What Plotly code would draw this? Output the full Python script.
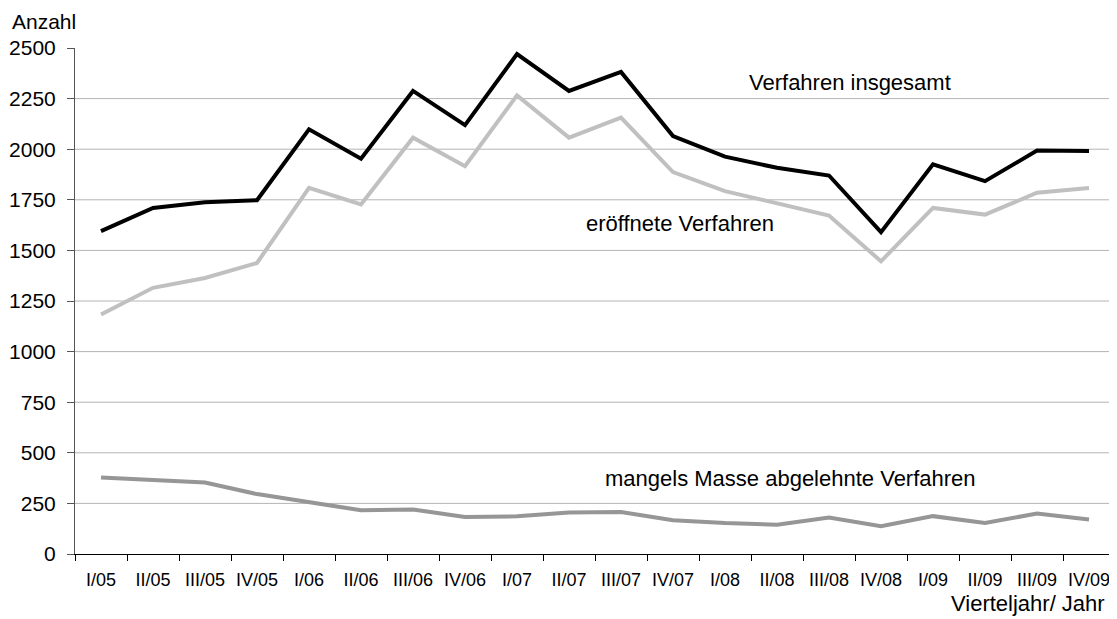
"""Insolvenzverfahren je Vierteljahr, 2005-2009."""

import plotly.graph_objects as go

QUARTERS = [
    "I/05", "II/05", "III/05", "IV/05",
    "I/06", "II/06", "III/06", "IV/06",
    "I/07", "II/07", "III/07", "IV/07",
    "I/08", "II/08", "III/08", "IV/08",
    "I/09", "II/09", "III/09", "IV/09",
]

insgesamt = [1595, 1710, 1738, 1748, 2098, 1953, 2288, 2119, 2470, 2288,
             2382, 2065, 1963, 1908, 1870, 1590, 1925, 1842, 1993, 1991]
eroeffnet = [1183, 1315, 1364, 1438, 1809, 1727, 2057, 1916, 2266, 2057,
             2156, 1887, 1793, 1735, 1672, 1446, 1710, 1677, 1785, 1808]
abgelehnt = [378, 366, 353, 296, 258, 216, 220, 183, 186, 205,
             207, 167, 153, 145, 180, 137, 187, 153, 200, 170]

Y_TICKS = [0, 250, 500, 750, 1000, 1250, 1500, 1750, 2000, 2250, 2500]

FONT = "Arial, Liberation Sans, sans-serif"

fig = go.Figure()
for values, color in [
    (abgelehnt, "#969696"),
    (eroeffnet, "#c0c0c0"),
    (insgesamt, "#000000"),
]:
    fig.add_trace(
        go.Scatter(
            x=QUARTERS,
            y=values,
            mode="lines",
            line=dict(color=color, width=4),
            showlegend=False,
            hoverinfo="skip",
        )
    )

# horizontal gridlines, none at the top of the axis
for v in Y_TICKS[1:-1]:
    fig.add_hline(y=v, line=dict(color="#b4b4b4", width=1), layer="below")

labels = [
    ("Verfahren insgesamt", 0.646, 0.931, "left", 22),
    ("eröffnete Verfahren", 0.489, 0.654, "left", 22),
    ("mangels Masse abgelehnte Verfahren", 0.508, 0.150, "left", 22),
    ("Anzahl", -0.0625, 1.053, "left", 21),
    ("Vierteljahr/ Jahr", 0.992, -0.097, "right", 22),
]
for text, x, y, anchor, size in labels:
    fig.add_annotation(
        text=text, x=x, y=y, xref="paper", yref="paper",
        xanchor=anchor, yanchor="middle", showarrow=False,
        font=dict(family=FONT, size=size, color="#000000"),
    )

# the page body has an 8px margin, so the figure is shifted by that much
fig.update_layout(
    width=1109,
    height=611,
    margin=dict(l=67, r=2, t=40, b=65),
    plot_bgcolor="white",
    paper_bgcolor="white",
    font=dict(family=FONT, color="#000000"),
    xaxis=dict(
        type="category",
        tickson="boundaries",
        ticks="outside",
        ticklen=6,
        tickcolor="#000000",
        showline=True,
        linecolor="#000000",
        linewidth=1,
        showgrid=False,
        tickfont=dict(size=18),
        ticklabelstandoff=9,
        range=[-0.5, len(QUARTERS) - 0.5],
    ),
    yaxis=dict(
        range=[0, 2500],
        tickvals=Y_TICKS,
        ticks="outside",
        ticklen=7,
        tickcolor="#555555",
        showline=True,
        linecolor="#555555",
        linewidth=1,
        showgrid=False,
        zeroline=False,
        tickfont=dict(size=21),
        ticklabelstandoff=7,
    ),
)

fig.write_html("out.html")
